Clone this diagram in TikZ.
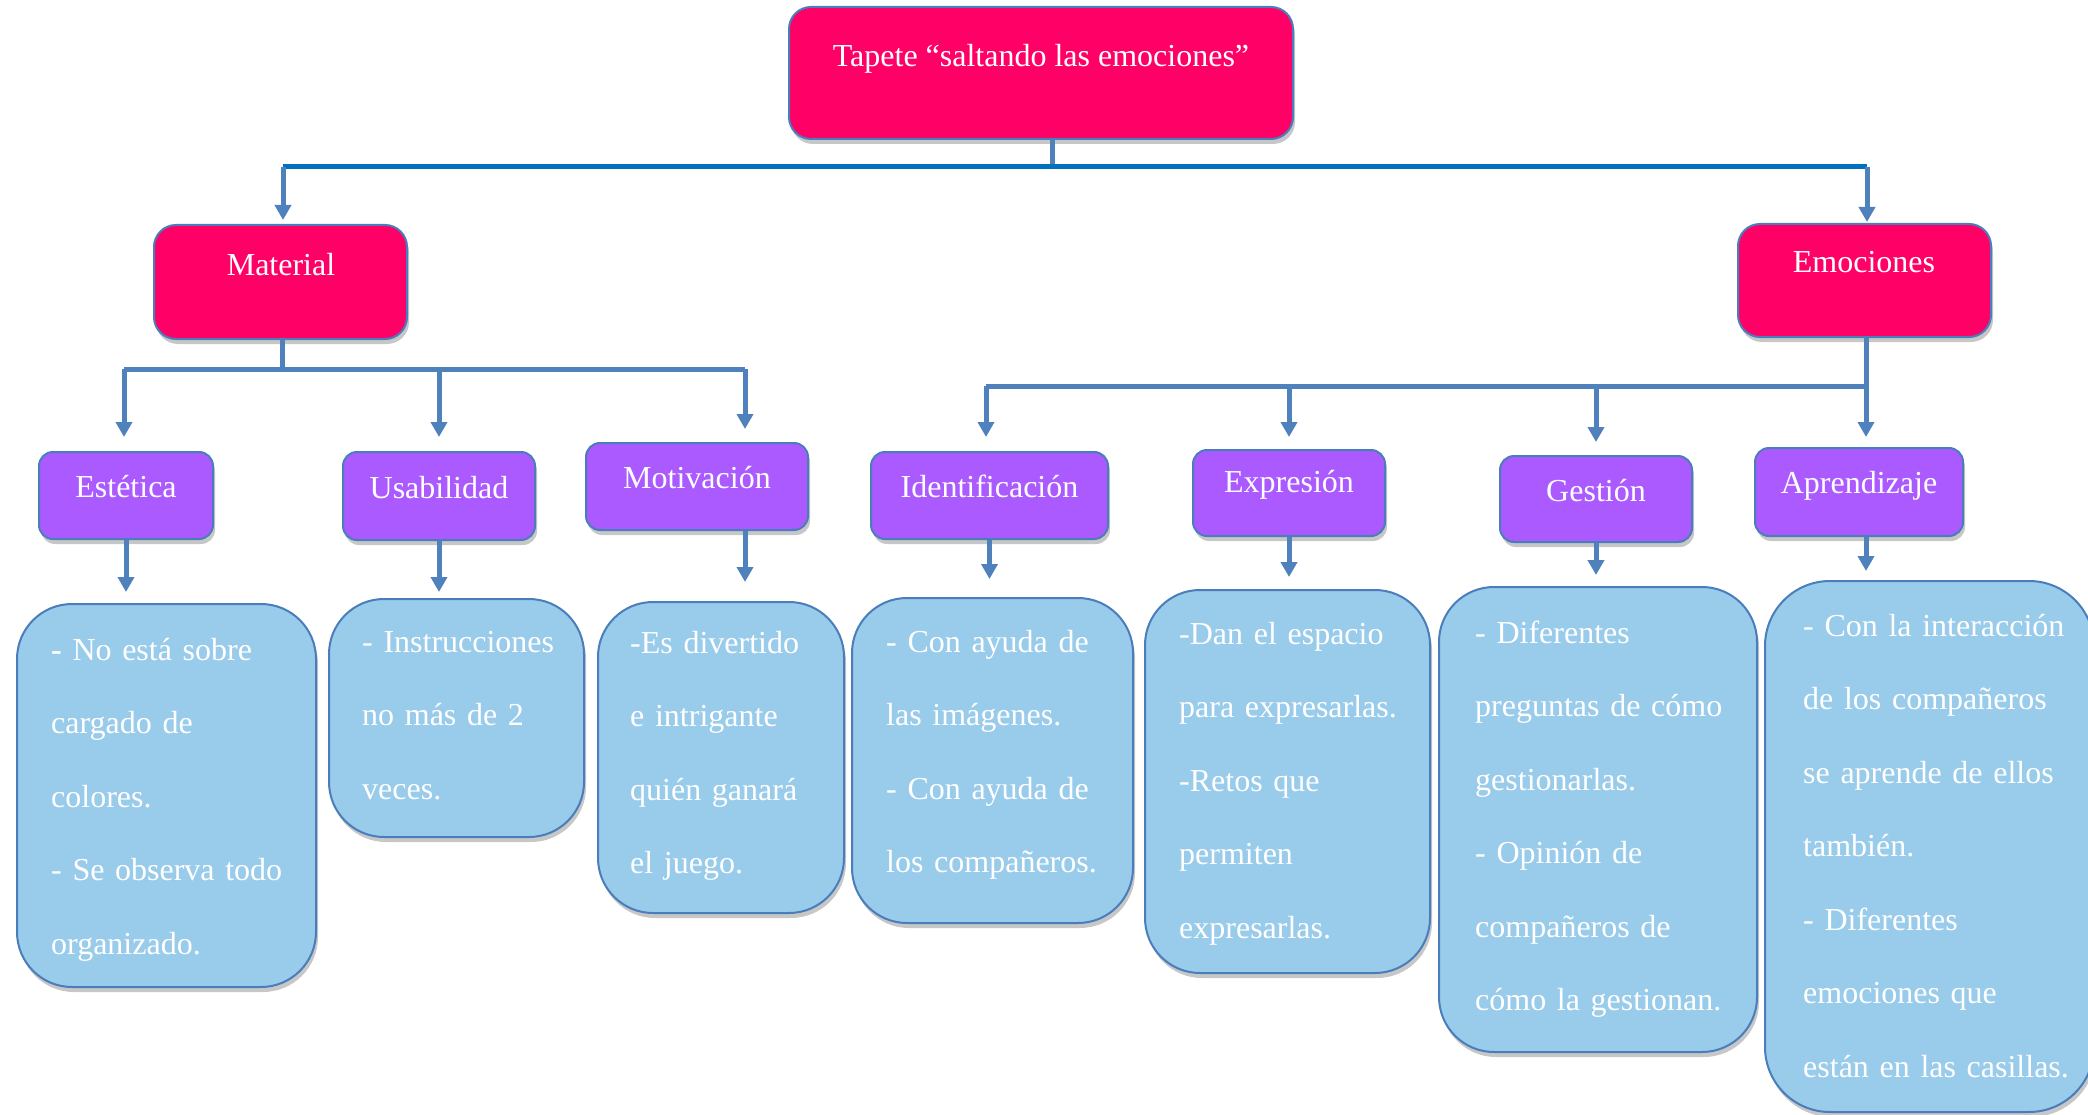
\documentclass[tikz,border=0pt]{standalone}
\usepackage{fontspec}
\setmainfont{Liberation Serif}
\usetikzlibrary{arrows.meta,shadows}
\definecolor{pinkc}{HTML}{FF0066}
\definecolor{purc}{HTML}{AA5AFF}
\definecolor{bluec}{HTML}{99CBEB}
\definecolor{edgec}{HTML}{4A7EBB}
\definecolor{linec}{HTML}{4F81BD}
\definecolor{busc}{HTML}{0070C0}
\newcommand\labfont{\fontsize{32}{38}\selectfont}
\newcommand\detfont{\fontsize{32}{73.5}\selectfont}
\begin{document}
\begin{tikzpicture}[x=1pt,y=-1pt,
  box/.style={draw=edgec, line width=2pt, inner sep=0pt,
    drop shadow={shadow xshift=2pt,shadow yshift=-5pt,opacity=0.22,fill=black}},
  pinkbox/.style={box, fill=pinkc, rounded corners=22pt},
  purbox/.style={box, fill=purc, rounded corners=14pt},
  detbox/.style={box, fill=bluec, rounded corners=55pt},
  lab/.style={text=white, font=\labfont, inner sep=0pt, anchor=base},
  det/.style={text=white, font=\detfont, inner sep=0pt, anchor=base west, text width=330pt, align=left},
  conn/.style={draw=linec, line width=5pt},
  bus/.style={draw=busc, line width=5pt},
  arr/.style={conn, -{Triangle[width=16pt,length=15pt]}}]
\fill[white] (0,0) rectangle (2088,1115);
\useasboundingbox (0,0) rectangle (2088,1115);

% level 0
\node[pinkbox, minimum width=504pt, minimum height=132pt] (top) at (1041,73) {};
\node[lab] (topT) at (1041,67) {Tapete “saltando las emociones”};

% level 1
\node[pinkbox, minimum width=253pt, minimum height=114pt] (mat) at (280.5,282) {};
\node[lab] (matT) at (281,276) {Material};
\node[pinkbox, minimum width=253pt, minimum height=113pt] (emo) at (1864.5,280.5) {};
\node[lab] (emoT) at (1864,273) {Emociones};

% level 2
\node[purbox, minimum width=174pt, minimum height=87pt] (est) at (126,495.5) {};
\node[lab] (estT) at (126,497) {Estética};
\node[purbox, minimum width=192pt, minimum height=88pt] (usa) at (439,496) {};
\node[lab] (usaT) at (439,498) {Usabilidad};
\node[purbox, minimum width=222pt, minimum height=87pt] (mot) at (697,486.5) {};
\node[lab] (motT) at (697,488) {Motivación};
\node[purbox, minimum width=237pt, minimum height=87pt] (ide) at (989.5,495.5) {};
\node[lab] (ideT) at (989.5,497) {Identificación};
\node[purbox, minimum width=192pt, minimum height=86pt] (exp) at (1289,493) {};
\node[lab] (expT) at (1289,492) {Expresión};
\node[purbox, minimum width=192pt, minimum height=86pt] (ges) at (1596,499) {};
\node[lab] (gesT) at (1596,501) {Gestión};
\node[purbox, minimum width=208pt, minimum height=88pt] (apr) at (1859,492) {};
\node[lab] (aprT) at (1859,493) {Aprendizaje};

% level 3
\node[detbox, minimum width=299pt, minimum height=383pt] (estD) at (166.5,795.5) {};
\node[det] (estX) at (51,660) {{\bfseries -} No está sobre\\cargado de\\colores.\\- Se observa todo\\organizado.};
\node[detbox, minimum width=255pt, minimum height=238pt] (usaD) at (456.5,718) {};
\node[det] (usaX) at (362,652) {- Instrucciones\\no más de 2\\veces.};
\node[detbox, minimum width=246pt, minimum height=311pt] (motD) at (721,757.5) {};
\node[det] (motX) at (630,653) {-Es divertido\\e intrigante\\quién ganará\\el juego.};
\node[detbox, minimum width=281pt, minimum height=325pt] (ideD) at (992.5,760.5) {};
\node[det] (ideX) at (886,652) {- Con ayuda de\\las imágenes.\\- Con ayuda de\\los compañeros.};
\node[detbox, minimum width=285pt, minimum height=383pt] (expD) at (1287.5,781.5) {};
\node[det] (expX) at (1179,644) {-Dan el espacio\\para expresarlas.\\-Retos que\\permiten\\expresarlas.};
\node[detbox, minimum width=318pt, minimum height=465pt] (gesD) at (1598,819.5) {};
\node[det] (gesX) at (1475,643) {- Diferentes\\preguntas de cómo\\gestionarlas.\\- Opinión de\\compañeros de\\cómo la gestionan.};
\node[detbox, rounded corners=65pt, minimum width=329pt, minimum height=531pt] (aprD) at (1929.5,846.5) {};
\node[det] (aprX) at (1803,636) {- Con la interacción\\de los compañeros\\se aprende de ellos\\también.\\- Diferentes\\emociones que\\están en las casillas.};

% bus coordinates
\coordinate (tb) at (1052,167);
\coordinate (tbL) at (283,167);
\coordinate (tbR) at (1867,167);
\coordinate (mb) at (282,369);
\coordinate (mbL) at (124,369);
\coordinate (mbR) at (745,369);
\coordinate (ebL) at (986,386);
\coordinate (ebR) at (1866,386);

% top level connectors
\draw[conn] (top.south -| tb) -- (tb);
\draw[bus] (tbL) -- (tbR);
\draw[arr, shorten >=4pt] (tbL) -- (mat.north -| tbL);
\draw[arr, shorten >=1pt] (tbR) -- (emo.north -| tbR);

% material connectors
\draw[conn] (mat.south -| mb) -- (mb);
\draw[conn] (mbL) -- (mbR);
\draw[arr, shorten >=14pt] (mbL) -- (est.north -| mbL);
\draw[arr, shorten >=14pt] (mbL -| usa.north) -- (usa.north);
\draw[arr, shorten >=13pt] (mbR) -- (mot.north -| mbR);

% emociones connectors
\draw[conn] (emo.south -| ebR) -- (ebR);
\draw[conn] (ebL) -- (ebR);
\draw[arr, shorten >=14pt] (ebL) -- (ide.north -| ebL);
\draw[arr, shorten >=12pt] (ebL -| exp.north) -- (exp.north);
\draw[arr, shorten >=13pt] (ebL -| ges.north) -- (ges.north);
\draw[arr, shorten >=10pt] (ebR) -- (apr.north -| ebR);

% to detail boxes
\draw[arr, shorten >=11pt] (est.south) -- (estD.north -| est.south);
\draw[arr, shorten >=6pt] (usa.south) -- (usaD.north -| usa.south);
\draw[arr, shorten >=19pt] (mot.south -| mbR) -- (motD.north -| mbR);
\draw[arr, shorten >=18pt] (ide.south) -- (ideD.north -| ide.south);
\draw[arr, shorten >=12pt] (exp.south) -- (expD.north -| exp.south);
\draw[arr, shorten >=11pt] (ges.south) -- (gesD.north -| ges.south);
\draw[arr, shorten >=9pt] (apr.south -| ebR) -- (aprD.north -| ebR);
\end{tikzpicture}
\end{document}
